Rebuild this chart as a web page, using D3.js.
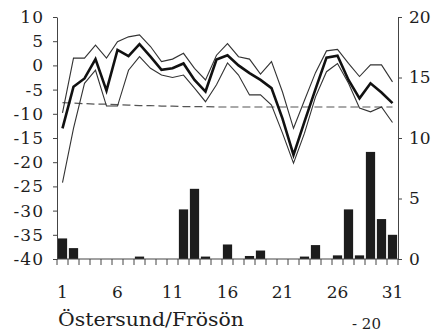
<!DOCTYPE html>
<html><head><meta charset="utf-8">
<script src="https://cdn.jsdelivr.net/npm/d3@7"></script>
<style>
html,body{margin:0;padding:0;background:#fff;}
svg text{font-family:"DejaVu Serif",serif;fill:#1e1e1e;}
</style></head>
<body>
<script>
const days = [1,2,3,4,5,6,7,8,9,10,11,12,13,14,15,16,17,18,19,20,21,22,23,24,25,26,27,28,29,30,31];
const tempMean = [-13,-4.4,-2.7,1.3,-5.2,3.2,1.9,4.4,1.8,-0.9,-0.6,0.4,-3,-5.4,1.2,2.1,0,-1.6,-3,-4.7,-11,-18.5,-11.6,-4.9,1.6,2,-3,-6.8,-3.7,-5.6,-7.8];
const tempMax = [-9.8,1.5,1.5,4.2,1.5,4.9,5.9,6.3,3.9,0.8,1.3,2.5,-0.6,-3,2.1,4.5,1.8,1.3,-1.8,0.8,-5.5,-13,-7.2,-1.5,3,3.3,0.4,-2.3,0.1,0.1,-3.4];
const tempMin = [-24.2,-13,-3.7,-1,-8.4,-8.4,-1,1.8,-0.6,-2,-2.5,-2,-4.7,-7.5,-4,0.5,-2,-6.1,-6.1,-8.2,-14,-20.2,-14,-6.5,-1.3,0.4,-3.7,-8.8,-9.6,-8.6,-11.8];
const tempNormal = [-7.7,-7.8,-7.9,-8,-8,-8.1,-8.2,-8.3,-8.3,-8.4,-8.4,-8.5,-8.5,-8.5,-8.6,-8.6,-8.6,-8.6,-8.6,-8.6,-8.6,-8.6,-8.6,-8.6,-8.6,-8.6,-8.6,-8.6,-8.6,-8.6,-8.6];
const precip = [1.7,0.9,0,0,0,0,0,0.2,0,0,0,4.1,5.8,0.2,0,1.2,0,0.25,0.7,0,0,0,0.2,1.15,0,0.3,4.1,0.3,8.85,3.3,2.0];
const leftTicks = [-40,-35,-30,-25,-20,-15,-10,-5,0,5,10];
const rightTicks = [0,5,10,15,20];
const xTickLabels = [1,6,11,16,21,26,31];
const stationName = "Östersund/Frösön";
const nextLabel = "- 20";

const W = 439, H = 334;
const svg = d3.select("body").append("svg").attr("width", W).attr("height", H);

const x = d3.scaleBand().domain(days).range([57, 398]).paddingInner(0.16).paddingOuter(0.08);
const yL = d3.scaleLinear().domain([-40, 10]).range([259, 17]);
const yR = d3.scaleLinear().domain([0, 20]).range([259, 17]);
const cx = d => x(d) + x.bandwidth() / 2;

// bars
svg.append("g").selectAll("rect").data(days).join("rect")
  .attr("x", d => x(d)).attr("width", x.bandwidth())
  .attr("y", (d, i) => yR(precip[i])).attr("height", (d, i) => yR(0) - yR(precip[i]))
  .attr("fill", "#1c1c1c");

// lines
const line = arr => d3.line().x((d, i) => cx(days[i])).y(d => yL(d))(arr);
svg.append("path").attr("d", line(tempNormal)).attr("fill", "none").attr("stroke", "#555").attr("stroke-width", 1.2).attr("stroke-dasharray", "8,4");
svg.append("path").attr("d", line(tempMax)).attr("fill", "none").attr("stroke", "#333").attr("stroke-width", 1.1);
svg.append("path").attr("d", line(tempMin)).attr("fill", "none").attr("stroke", "#333").attr("stroke-width", 1.1);
svg.append("path").attr("d", line(tempMean)).attr("fill", "none").attr("stroke", "#111").attr("stroke-width", 2.6).attr("stroke-linejoin", "miter");

// left axis
const gL = svg.append("g").attr("transform", "translate(57,0)")
  .call(d3.axisLeft(yL).tickValues(leftTicks).tickSize(4).tickSizeOuter(0).tickPadding(9).tickFormat(d => String(d)));
// right axis
const gR = svg.append("g").attr("transform", "translate(398,0)")
  .call(d3.axisRight(yR).tickValues(rightTicks).tickSize(4).tickSizeOuter(0).tickPadding(7).tickFormat(d => String(d)));
// bottom axis: ticks at band boundaries
const gB = svg.append("g");
gB.append("line").attr("x1", x.range()[0]).attr("x2", x.range()[1]).attr("y1", yR(0)).attr("y2", yR(0)).attr("stroke", "#444");
const bounds = days.map(d => x(d) - x.step() * x.paddingInner() / 2).concat([x.range()[1]]);
gB.selectAll("line.t").data(bounds).join("line").attr("class", "t")
  .attr("x1", d => d).attr("x2", d => d).attr("y1", yR(0)).attr("y2", yR(0) + 6).attr("stroke", "#444");
gB.selectAll("text").data(xTickLabels).join("text")
  .attr("x", d => cx(d)).attr("y", 298).attr("text-anchor", "middle").attr("font-size", 17).text(d => d);

[gL, gR].forEach(g => {
  g.select(".domain").attr("stroke", "#444");
  g.selectAll(".tick line").attr("stroke", "#444");
  g.selectAll("text").attr("font-size", 17).attr("font-family", "DejaVu Serif").attr("fill", "#1e1e1e");
});
gL.selectAll("text").attr("letter-spacing", 1);

svg.append("text").attr("x", 58).attr("y", 326).attr("font-size", 18)
  .attr("textLength", 186).attr("lengthAdjust", "spacingAndGlyphs").text(stationName);
svg.append("text").attr("x", 352).attr("y", 329).attr("font-size", 15).text(nextLabel);
</script>
</body></html>
